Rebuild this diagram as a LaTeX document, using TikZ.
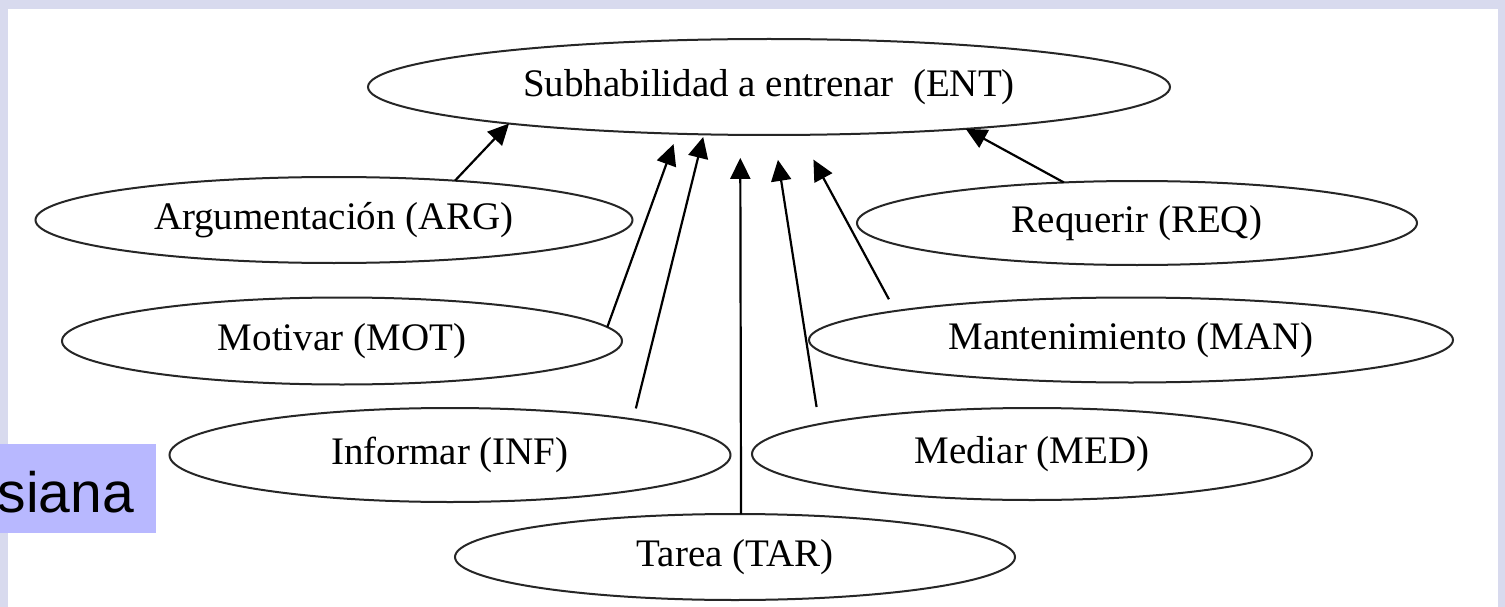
\documentclass[tikz,border=0pt]{standalone}
\usepackage{fontspec}
\setmainfont{Liberation Serif}
\newfontfamily\labelsans{Liberation Sans}
\usetikzlibrary{arrows.meta,shapes.geometric}
\definecolor{framec}{RGB}{216,218,238}
\definecolor{boxc}{RGB}{184,184,255}
\begin{document}
\begin{tikzpicture}[x=1pt,y=-1pt,
  ell/.style={ellipse,draw=black!85,line width=2pt,inner sep=0pt,outer sep=0pt,
              font=\fontsize{39}{40}\selectfont},
  arr/.style={line width=2.2pt,-{Triangle[length=21pt,width=20pt]}}]
\useasboundingbox (0,0) rectangle (1505,607);
\fill[framec] (0,0) rectangle (1505,607);
\fill[white] (8,9) rectangle (1498,607);

% nodes
\node[ell,minimum width=802pt,minimum height=96pt] (ENT) at (769,87) {Subhabilidad a entrenar\ \ (ENT)};
\node[ell,minimum width=597pt,minimum height=86pt] (ARG) at (334,220) {Argumentación (ARG)};
\node[ell,minimum width=560pt,minimum height=84pt] (REQ) at (1137,223) {Requerir (REQ)};
\node[ell,minimum width=560pt,minimum height=87pt] (MOT) at (342,341) {Motivar (MOT)};
\node[ell,minimum width=644pt,minimum height=85pt] (MAN) at (1131,340) {Mantenimiento (MAN)};
\node[ell,minimum width=561pt,minimum height=94pt] (INF) at (450,455) {Informar (INF)};
\node[ell,minimum width=560pt,minimum height=92pt] (MED) at (1032,454) {Mediar (MED)};
\node[ell,minimum width=560pt,minimum height=86pt] (TAR) at (735,557) {Tarea (TAR)};

% connectors
\draw[arr] (ARG.18.3) -- (ENT.188.75);
\draw[arr,shorten >=11pt] (MOT.3.44) -- (ENT.207.8);
\draw[arr,shorten <=11.3pt,shorten >=2.7pt] (INF.11.3) -- (ENT.216);
\draw[arr,shorten >=23pt] (TAR.82) -- (ENT.239.7);
\draw[arr,shorten <=17.3pt,shorten >=25.2pt] (MED.172.4) -- (ENT.276.7);
\draw[arr,shorten <=13.4pt,shorten >=28.1pt] (MAN.173.4) -- (ENT.303.2);
\draw[arr] (REQ.151.6) -- (ENT.348);

% side label
\fill[boxc] (0,444) rectangle (156,533);
\node[font=\labelsans\fontsize{57}{60}\selectfont,anchor=base east,inner sep=0pt] (lbl) at (134,512) {siana};
\end{tikzpicture}
\end{document}
